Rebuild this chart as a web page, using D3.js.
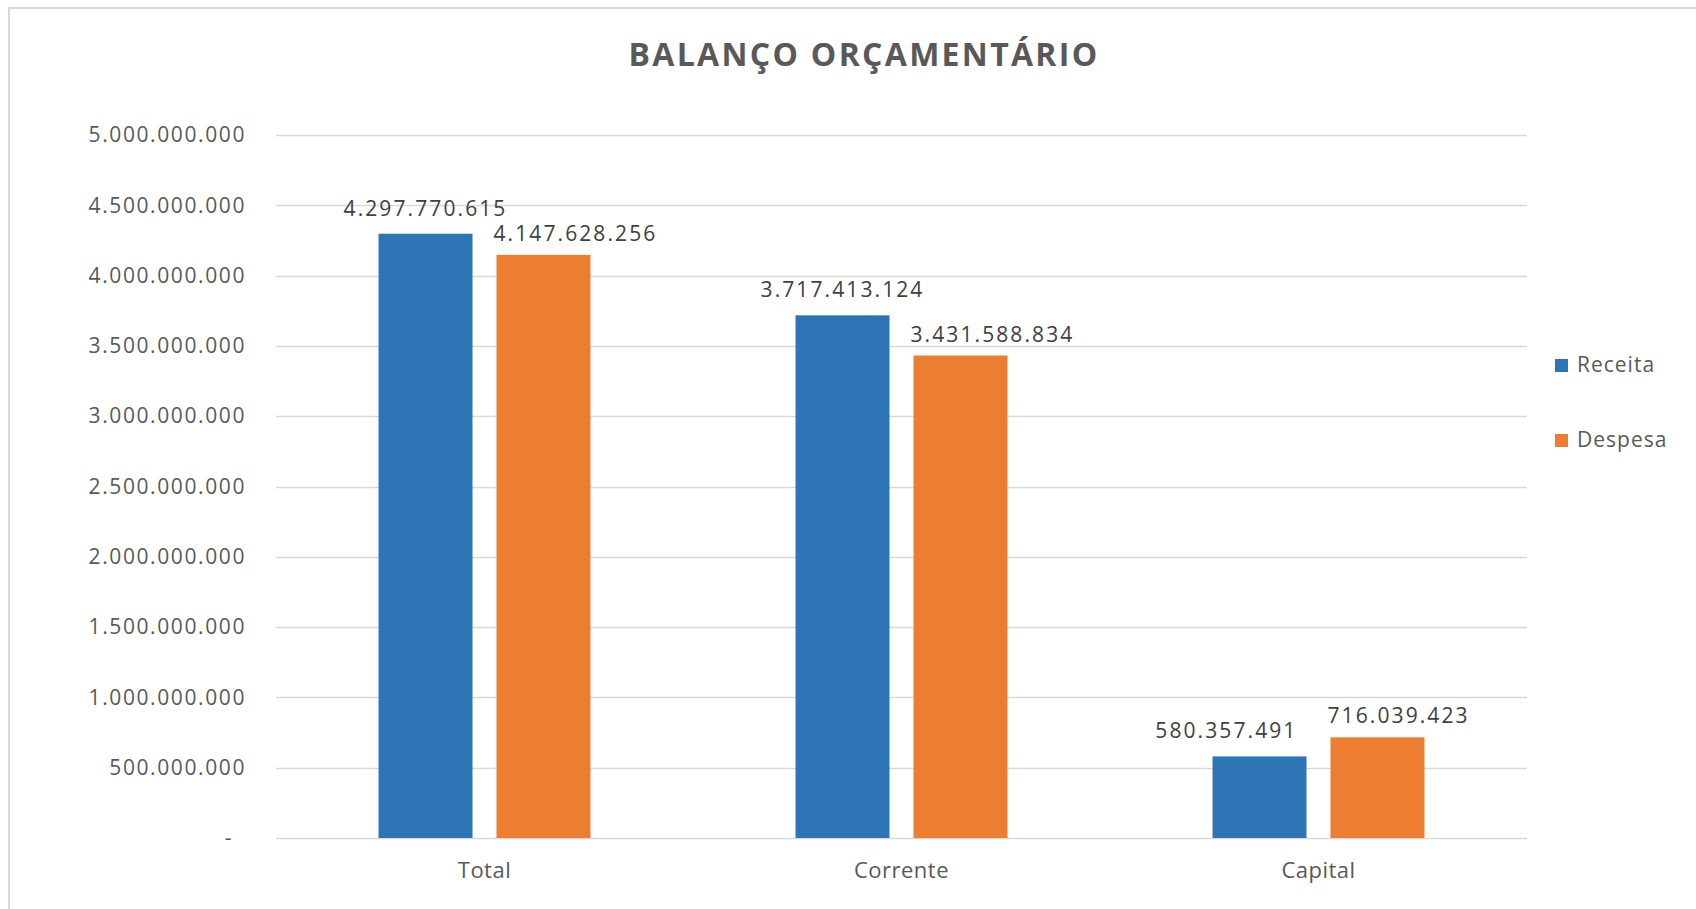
<!DOCTYPE html>
<html>
<head>
<meta charset="utf-8">
<script src="https://cdn.jsdelivr.net/npm/d3@7"></script>
<style>
  html, body { margin: 0; padding: 0; background: #fff; }
  svg { display: block; }
  text { font-family: "Open Sans", "Noto Sans", sans-serif; }
</style>
</head>
<body>
<svg id="chart" width="1696" height="909"></svg>
<script>
const title = "BALANÇO ORÇAMENTÁRIO";
const categories = ["Total", "Corrente", "Capital"];
const seriesNames = ["Receita", "Despesa"];
const receita = [4297770615, 3717413124, 580357491];
const despesa = [4147628256, 3431588834, 716039423];
const yTicks = [0, 500000000, 1000000000, 1500000000, 2000000000, 2500000000, 3000000000, 3500000000, 4000000000, 4500000000, 5000000000];
const colors = ["#2E75B6", "#ED7D31"];

const seriesValues = [receita, despesa];
const W = 1696, H = 909;
const plot = { left: 276, right: 1527, top: 135, bottom: 838 };

const svg = d3.select("#chart");
const locale = d3.formatLocale({ decimal: ",", thousands: ".", grouping: [3], currency: ["", ""] });
const fmt = locale.format(",d");

// chart frame
svg.append("rect")
  .attr("x", 9).attr("y", 8)
  .attr("width", W + 20).attr("height", H + 20)
  .attr("fill", "#fff").attr("stroke", "#d9d9d9").attr("stroke-width", 2);

// title
svg.append("text")
  .attr("x", 864).attr("y", 66)
  .attr("text-anchor", "middle")
  .attr("font-size", 32).attr("font-weight", 700)
  .attr("letter-spacing", 2.3)
  .attr("fill", "#595959")
  .text(title);

const y = d3.scaleLinear().domain([0, 5000000000]).range([plot.bottom, plot.top]);
const x0 = d3.scaleBand().domain(categories).range([plot.left, plot.right]).paddingInner(0).paddingOuter(0);
const x1 = d3.scaleBand().domain(seriesNames).range([0, x0.bandwidth()]).paddingInner(0.2034).paddingOuter(0.869);

// gridlines
svg.append("g")
  .selectAll("line")
  .data(yTicks)
  .join("line")
  .attr("x1", plot.left).attr("x2", plot.right)
  .attr("y1", d => Math.round(y(d)) + 0.5).attr("y2", d => Math.round(y(d)) + 0.5)
  .attr("stroke", "#d9d9d9").attr("stroke-width", 1.5);

// y axis
const yAxis = svg.append("g")
  .attr("transform", `translate(${plot.left},0)`)
  .call(d3.axisLeft(y).tickValues(yTicks).tickSize(0).tickPadding(30)
    .tickFormat(d => d === 0 ? "-" : fmt(d)));
yAxis.select(".domain").remove();
yAxis.selectAll("text")
  .attr("font-family", "\"Open Sans\", \"Noto Sans\", sans-serif")
  .attr("font-size", 21)
  .attr("letter-spacing", 1.6)
  .attr("fill", "#595959")
  .attr("dx", d => d === 0 ? -13 : 0);

// x axis labels
const xAxis = svg.append("g")
  .attr("transform", `translate(0,${plot.bottom})`)
  .call(d3.axisBottom(x0).tickSize(0).tickPadding(24));
xAxis.select(".domain").remove();
xAxis.selectAll("text")
  .attr("font-family", "\"Open Sans\", \"Noto Sans\", sans-serif")
  .attr("font-size", 22)
  .attr("letter-spacing", 0.5)
  .attr("fill", "#595959");

// bars
const groups = svg.append("g")
  .selectAll("g")
  .data(categories)
  .join("g")
  .attr("transform", d => `translate(${x0(d)},0)`);

const barData = (c, ci) => seriesNames.map((s, si) => ({ cat: c, series: s, si, value: seriesValues[si][ci] }));

groups.selectAll("rect")
  .data((c, ci) => barData(c, ci))
  .join("rect")
  .attr("x", d => x1(d.series))
  .attr("width", x1.bandwidth())
  .attr("y", d => y(d.value))
  .attr("height", d => y(0) - y(d.value))
  .attr("fill", d => colors[d.si]);

// data labels
const labelGap = [18, 14];
groups.each(function (c, ci) {
  const g = d3.select(this);
  const items = barData(c, ci);
  const texts = g.selectAll("text.lbl")
    .data(items)
    .join("text")
    .attr("class", "lbl")
    .attr("font-size", 21)
    .attr("letter-spacing", 2.1)
    .attr("fill", "#404040")
    .attr("y", d => y(d.value) - labelGap[d.si])
    .text(d => fmt(d.value));
  const nodes = texts.nodes();
  const dNode = nodes[1], rNode = nodes[0];
  const dx = x1("Despesa") - 3;
  d3.select(dNode).attr("x", dx).attr("text-anchor", "start");
  const rw = rNode.getComputedTextLength();
  let rc = x1("Receita") + x1.bandwidth() / 2;
  const ry = y(items[0].value) - labelGap[0];
  const dy = y(items[1].value) - labelGap[1];
  if (Math.abs(ry - dy) < 18 && rc + rw / 2 > dx - 30) rc = dx - 30 - rw / 2;
  d3.select(rNode).attr("x", rc).attr("text-anchor", "middle");
});

// legend
const legend = svg.append("g")
  .selectAll("g")
  .data(seriesNames)
  .join("g")
  .attr("transform", (d, i) => `translate(1555,${359 + i * 75})`);
legend.append("rect")
  .attr("width", 13).attr("height", 13)
  .attr("fill", (d, i) => colors[i]);
legend.append("text")
  .attr("x", 22).attr("y", 13)
  .attr("font-size", 21).attr("letter-spacing", 1)
  .attr("fill", "#595959")
  .text(d => d);
</script>
</body>
</html>
